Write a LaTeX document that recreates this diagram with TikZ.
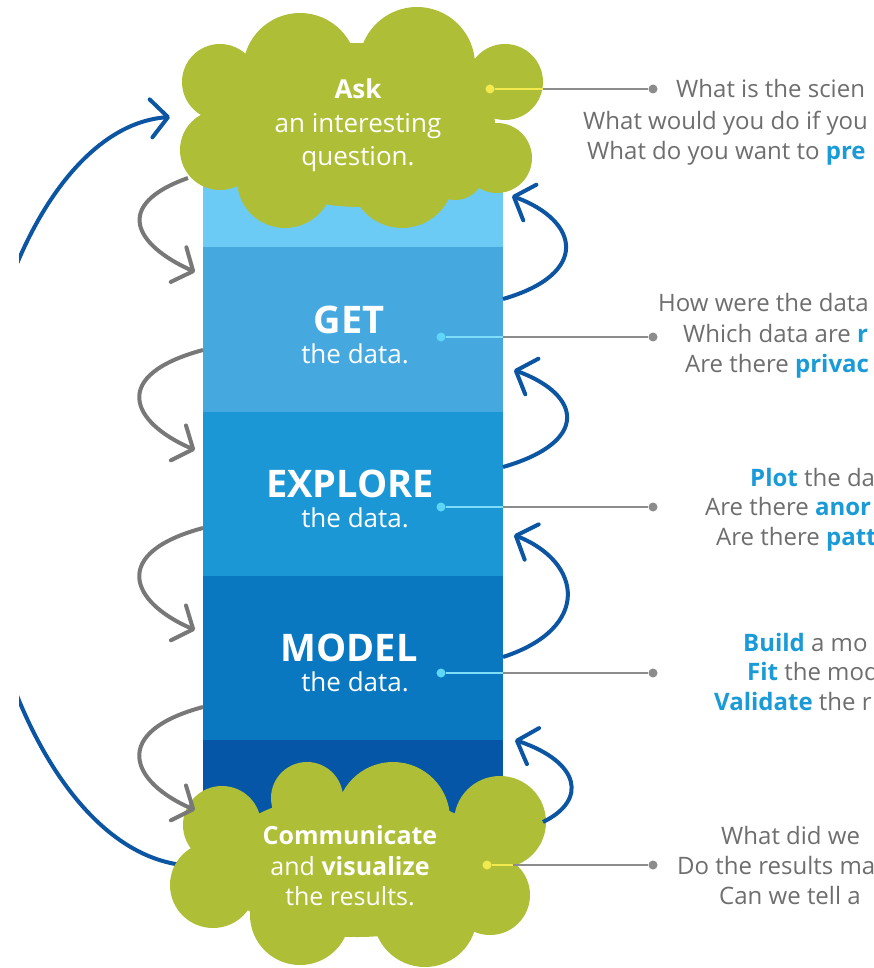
\documentclass[tikz,border=0pt]{standalone}
\usepackage{fontspec}
\setmainfont{Open Sans}
\usetikzlibrary{arrows.meta}
\definecolor{cloudg}{HTML}{AEBF37}
\definecolor{bandA}{HTML}{6CCBF4}
\definecolor{bandB}{HTML}{45A9E0}
\definecolor{bandC}{HTML}{1B97D5}
\definecolor{bandD}{HTML}{0978C0}
\definecolor{bandE}{HTML}{0556A6}
\definecolor{arrowblue}{HTML}{0B55A3}
\definecolor{arrowgray}{HTML}{787878}
\definecolor{txtgray}{HTML}{6E6E6E}
\definecolor{hlblue}{HTML}{1A9BD7}
\definecolor{dotcyan}{HTML}{5ED6F7}
\definecolor{dotyellow}{HTML}{F2E94E}
\definecolor{linegray}{HTML}{8C8C8C}
\newcommand\hlb[1]{\textbf{\color{hlblue}#1}}
\tikzset{
  grayarr/.style={draw=arrowgray, line width=4pt, -{Straight Barb[round,length=16pt,width=38pt]}},
  bluearr/.style={draw=arrowblue, line width=4pt, -{Straight Barb[round,length=17pt,width=38pt]}},
  rtxt/.style={anchor=base west, inner sep=0pt, text=txtgray, font=\fontsize{24}{28}\selectfont},
  bigword/.style={anchor=base, inner sep=0pt, text=white, font=\bfseries\fontsize{38}{44}\selectfont},
  subword/.style={anchor=base, inner sep=0pt, text=white, font=\fontsize{26}{30}\selectfont},
  cdot/.style={circle, fill=dotcyan, minimum size=9pt, inner sep=0pt},
  ydot/.style={circle, fill=dotyellow, minimum size=9pt, inner sep=0pt},
  gdot/.style={circle, fill=linegray, minimum size=9pt, inner sep=0pt},
  cline/.style={draw=dotcyan!80!white, line width=1.5pt},
  yline/.style={draw=dotyellow, line width=1.5pt},
  gline/.style={draw=linegray, line width=1.5pt},
}
\begin{document}
\begin{tikzpicture}[x=1pt,y=-1pt]
\useasboundingbox (0,0) rectangle (874,968);
\begin{scope}
\clip (0,0) rectangle (874,968);
\fill[white] (0,0) rectangle (874,968);
% column bands
\fill[bandA] (203,170) rectangle (503,247);
\fill[bandB] (203,247) rectangle (503,412);
\fill[bandC] (203,412) rectangle (503,576);
\fill[bandD] (203,576) rectangle (503,740);
\fill[bandE] (203,740) rectangle (503,860);
% big left loop (behind clouds)
\coordinate (askL) at (170,117);
\coordinate (comL) at (182,865);
\begin{scope}
\clip (19,0) rectangle (874,968);
\draw[bluearr] (comL) .. controls (60,850) and (-25,650) .. (-25,480)
  .. controls (-25,300) and (60,125) .. (askL);
\end{scope}
% top cloud
\fill[cloudg] (300,70) circle[radius=57pt] (417,65) circle[radius=58pt]
  (220,82) circle[radius=38pt] (220,150) circle[radius=40pt]
  (505,82) circle[radius=38pt] (497,158) circle[radius=35pt]
  (285,180) circle[radius=48pt] (402,176) circle[radius=52pt]
  (455,170) circle[radius=30pt]
  (360,125) ellipse[x radius=135pt, y radius=82pt];
% bottom cloud
\fill[cloudg] (307,798) circle[radius=36pt] (393,819) circle[radius=57pt]
  (222,825) circle[radius=39pt] (213,885) circle[radius=43pt]
  (300,915) circle[radius=50pt] (425,915) circle[radius=52pt]
  (500,822) circle[radius=46pt] (490,895) circle[radius=40pt]
  (357,865) ellipse[x radius=140pt, y radius=72pt];
% cloud texts
\node[subword, font=\bfseries\fontsize{26}{30}\selectfont] (ask1) at (358,99) {Ask};
\node[subword] (ask2) at (358,133) {an interesting};
\node[subword] (ask3) at (358,166) {question.};
\node[subword, font=\bfseries\fontsize{25}{30}\selectfont] (com1) at (350,844) {Communicate};
\node[subword, font=\fontsize{25}{30}\selectfont] (com2) at (350,875) {and \textbf{visualize}};
\node[subword, font=\fontsize{25}{30}\selectfont] (com3) at (350,905) {the results.};
% band texts
\node[bigword] (get1) at (349,333) {GET};
\node[subword] (get2) at (355,363) {the data.};
\node[bigword] (exp1) at (350,497) {EXPLORE};
\node[subword] (exp2) at (355,527) {the data.};
\node[bigword] (mod1) at (349,661) {MODEL};
\node[subword] (mod2) at (355,691) {the data.};
% connectors with dots
\node[ydot] (dA) at (490,89) {};
\coordinate (eA) at (543,89);
\node[gdot] (qA) at (653,89) {};
\draw[yline] (dA) -- (eA); \draw[gline] (eA) -- (qA);
\node[cdot] (dB) at (441,337) {};
\coordinate (eB) at (503,337);
\node[gdot] (qB) at (653,337) {};
\draw[cline] (dB) -- (eB); \draw[gline] (eB) -- (qB);
\node[cdot] (dC) at (441,507) {};
\coordinate (eC) at (503,507);
\node[gdot] (qC) at (653,507) {};
\draw[cline] (dC) -- (eC); \draw[gline] (eC) -- (qC);
\node[cdot] (dD) at (441,673) {};
\coordinate (eD) at (503,673);
\node[gdot] (qD) at (653,673) {};
\draw[cline] (dD) -- (eD); \draw[gline] (eD) -- (qD);
\node[ydot] (dE) at (487,865) {};
\coordinate (eE) at (513,865);
\node[gdot] (qE) at (653,865) {};
\draw[yline] (dE) -- (eE); \draw[gline] (eE) -- (qE);
% right texts
\node[rtxt] (tA1) at (676,98) {What is the scien};
\node[rtxt] (tA2) at (583,130) {What would you do if you};
\node[rtxt] (tA3) at (587,160) {What do you want to \hlb{pre}};
\node[rtxt] (tB1) at (658,311) {How were the data};
\node[rtxt] (tB2) at (683,342) {Which data are \hlb{r}};
\node[rtxt] (tB3) at (685,372) {Are there \hlb{privac}};
\node[rtxt] (tC1) at (750,486) {\hlb{Plot} the da};
\node[rtxt] (tC2) at (705,515) {Are there \hlb{anor}};
\node[rtxt] (tC3) at (716,545) {Are there \hlb{patt}};
\node[rtxt] (tD1) at (743,651) {\hlb{Build} a mo};
\node[rtxt] (tD2) at (747,680) {\hlb{Fit} the mod};
\node[rtxt] (tD3) at (714,710) {\hlb{Validate} the r};
\node[rtxt] (tE1) at (721,844) {What did we};
\node[rtxt] (tE2) at (677,874) {Do the results ma};
\node[rtxt] (tE3) at (719,904) {Can we tell a};
% gray arrows on the left
\coordinate (g1s) at (188,178); \coordinate (g1e) at (195,272);
\coordinate (g2s) at (203,350); \coordinate (g2e) at (195,450);
\coordinate (g3s) at (203,528); \coordinate (g3e) at (195,630);
\coordinate (g4s) at (203,707); \coordinate (g4e) at (195,810);
\draw[grayarr] (g1s) .. controls (112,205) and (135,245) .. (g1e);
\draw[grayarr] (g2s) .. controls (110,375) and (130,422) .. (g2e);
\draw[grayarr] (g3s) .. controls (110,553) and (130,602) .. (g3e);
\draw[grayarr] (g4s) .. controls (110,732) and (130,782) .. (g4e);
% blue arrows on the right
\coordinate (b1s) at (503,299); \coordinate (b1e) at (512,196);
\coordinate (b2s) at (503,467); \coordinate (b2e) at (514,370);
\coordinate (b3s) at (503,657); \coordinate (b3e) at (514,535);
\coordinate (b4s) at (543,822); \coordinate (b4e) at (515,740);
\draw[bluearr] (b1s) .. controls (590,274) and (580,221) .. (b1e);
\draw[bluearr] (b2s) .. controls (590,442) and (582,395) .. (b2e);
\draw[bluearr] (b3s) .. controls (592,628) and (582,562) .. (b3e);
\draw[bluearr] (b4s) .. controls (588,800) and (580,762) .. (b4e);
\end{scope}
\end{tikzpicture}
\end{document}
